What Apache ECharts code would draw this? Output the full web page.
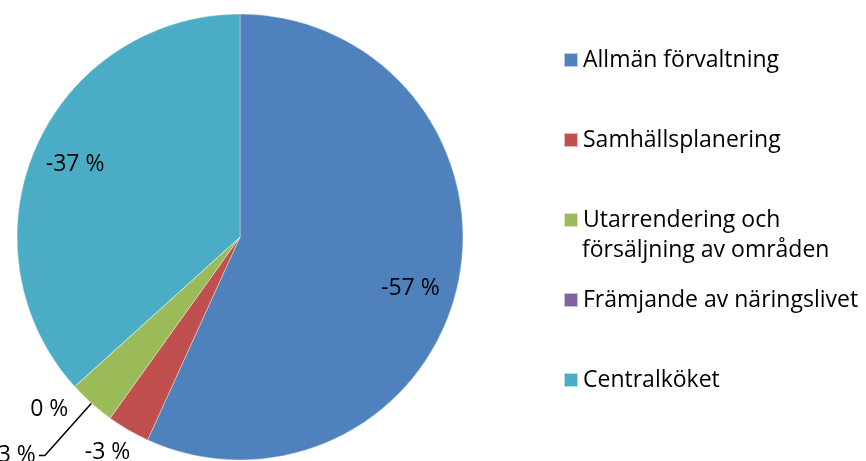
<!DOCTYPE html>
<html><head><meta charset="utf-8">
<script src="https://cdn.jsdelivr.net/npm/echarts@6/dist/echarts.min.js"></script>
<style>html,body{margin:0;padding:0;background:#fff;}#c{width:866px;height:461px;}</style>
</head><body><div id="c"></div>
<script>
const categories = ['Allmän förvaltning','Samhällsplanering','Utarrendering och försäljning av områden','Främjande av näringslivet','Centralköket'];
const legendLines = ['Allmän förvaltning','Samhällsplanering','Utarrendering och','Främjande av näringslivet','Centralköket'];
const values = [-56.8, -3.1, -3.4, 0, -36.7];
const colors = ['#4F81BD','#C0504D','#9BBB59','#8064A2','#4BACC6'];

const FONT = 'Open Sans';
const FS = 23;
const chart = echarts.init(document.getElementById('c'), null, {renderer:'canvas'});
const fmt = v => Math.round(v) + ' %';
const pct = p => fmt(values[p.dataIndex]);

const outsideCfg = [
  null,
  {line:false, length:26, length2:0, dx:18, dy:0},
  {line:true, length:70, length2:6, dx:0, dy:0},
  {line:false, length:30, length2:0, dx:19, dy:3},
  null
];
const insideShift = [[-7,13],[0,0],[0,0],[0,0],[1,1]];

const mainData = categories.map((n,i)=>{
  const d = {name:n, value:Math.abs(values[i]), itemStyle:{color:colors[i]}};
  const c = outsideCfg[i];
  if (c) {
    d.label = {show:true, position:'outside', overflow:'none', formatter:pct,
      fontFamily:FONT, fontSize:FS, color:'#000', distanceToLabelLine:3};
    d.labelLine = {show:c.line, length:c.length, length2:c.length2,
      lineStyle:{color:'#000', width:1.5}};
  } else {
    d.label = {show:false};
    d.labelLine = {show:false};
  }
  return d;
});

const ringData = categories.map((n,i)=>({
  name:n, value:Math.abs(values[i]),
  itemStyle:{color:'rgba(0,0,0,0)'},
  label:{show: outsideCfg[i]===null}
}));

chart.setOption({
  animation:false,
  backgroundColor:'#fff',
  legend:{
    orient:'vertical', left:563, top:45, padding:0,
    itemWidth:14, itemHeight:14, itemGap:50,
    icon:'rect',
    data:categories,
    formatter: n => legendLines[categories.indexOf(n)],
    textStyle:{fontFamily:FONT, fontSize:FS, color:'#000', lineHeight:30},
    selectedMode:false
  },
  graphic:[{type:'text', x:582, y:250, silent:true,
    style:{text:'försäljning av områden', font:FS+'px "'+FONT+'"', fill:'#000', verticalAlign:'middle'}}],
  series:[
    {type:'pie', center:[240,237], radius:223, startAngle:90, clockwise:true,
     avoidLabelOverlap:false, silent:true,
     itemStyle:{borderColor:'rgba(255,255,255,0.6)', borderWidth:0.6},
     labelLayout: p => {
       const c = outsideCfg[p.dataIndex];
       return c && (c.dx || c.dy) ? {dx:c.dx, dy:c.dy} : {};
     },
     data: mainData},
    {type:'pie', center:[240,237], radius:[134,223], startAngle:90, clockwise:true,
     avoidLabelOverlap:false, silent:true, z:3,
     label:{position:'inside', formatter:pct, fontFamily:FONT, fontSize:FS, color:'#000'},
     labelLine:{show:false},
     labelLayout: p => ({dx:insideShift[p.dataIndex][0], dy:insideShift[p.dataIndex][1]}),
     data: ringData}
  ]
});
</script></body></html>
